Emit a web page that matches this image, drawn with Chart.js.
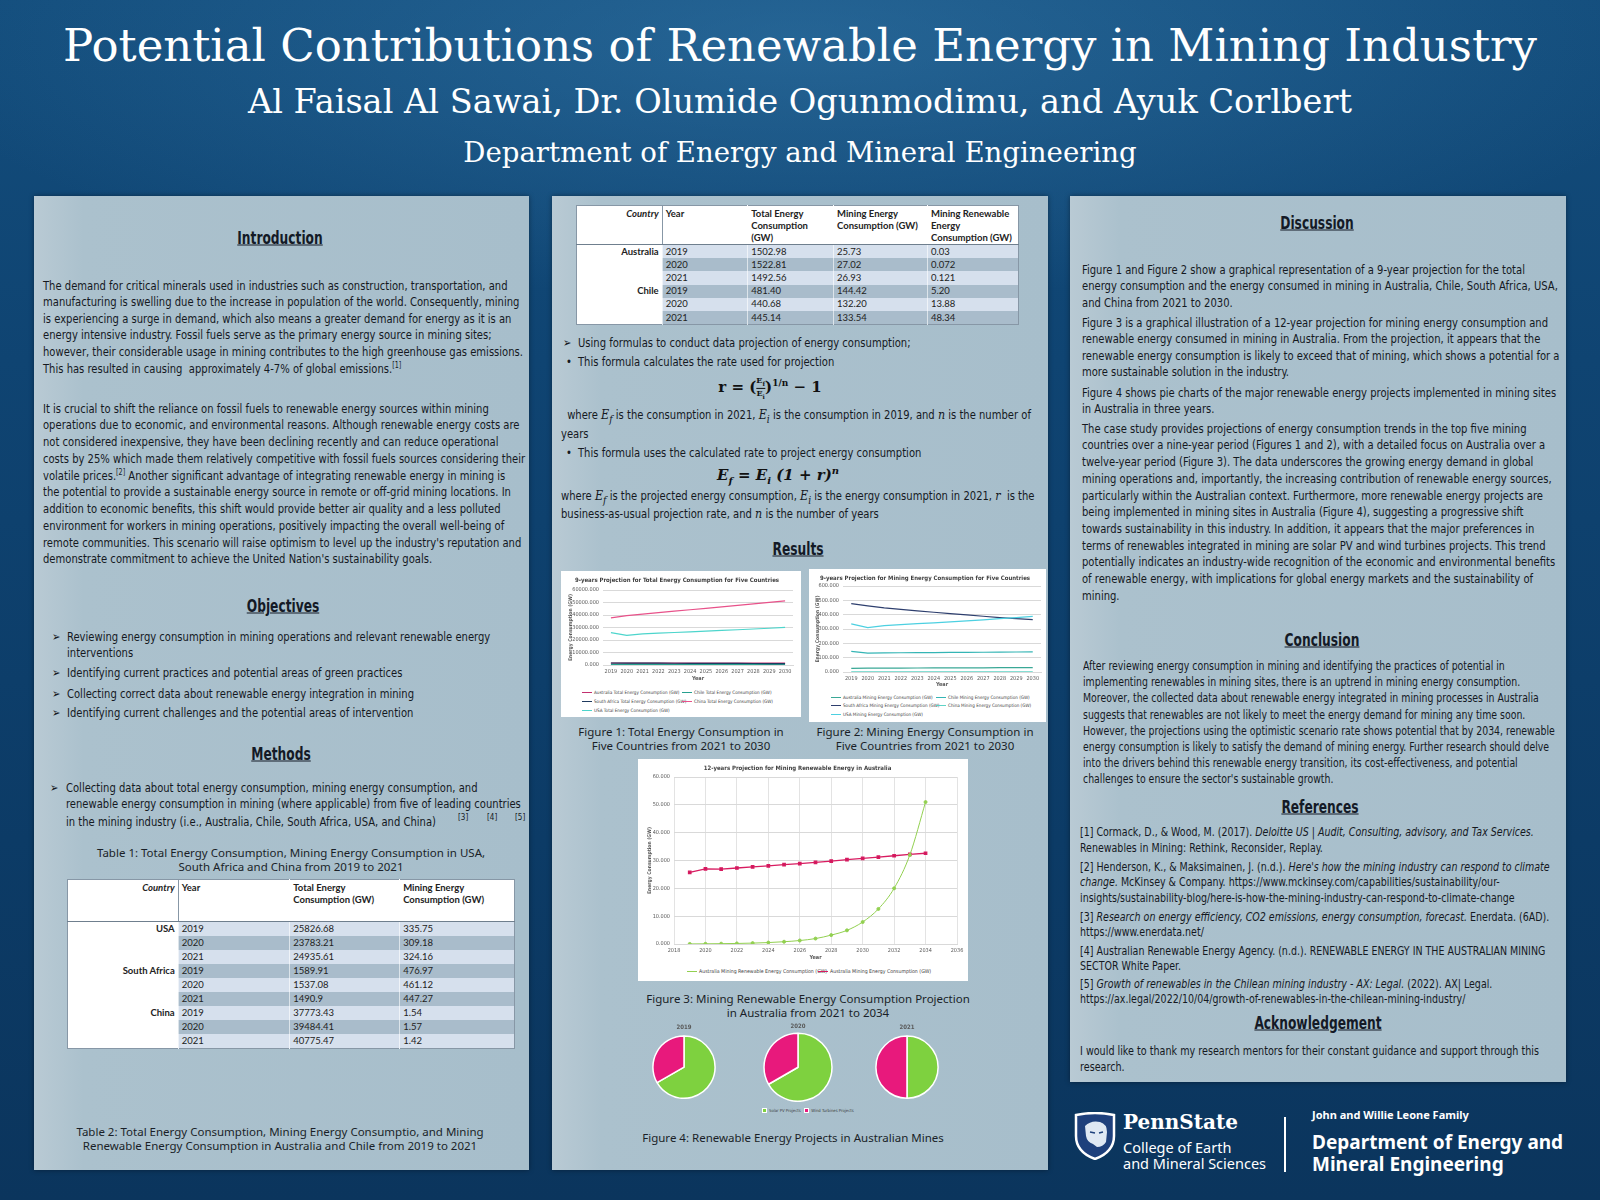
<!DOCTYPE html>
<html>
<head>
<meta charset="utf-8">
<script src="https://cdn.jsdelivr.net/npm/chart.js@4.4.0/dist/chart.umd.min.js"></script>
<style>
html, body { margin: 0; padding: 0; }
body {
  width: 1600px; height: 1200px; position: relative; overflow: hidden;
  background:
    radial-gradient(ellipse 900px 260px at 50% 40px, rgba(60,130,180,.45), rgba(60,130,180,0) 100%),
    linear-gradient(180deg, #134d7c 0%, #0f4472 30%, #0c3b66 70%, #0b355d 100%);
  font-family: 'Liberation Sans Narrow', 'DejaVu Sans Condensed', sans-serif;
}
.hdr { position: absolute; left: 0; width: 1600px; text-align: center; color: #fff;
  font-family: 'DejaVu Serif', 'Liberation Serif', serif; white-space: nowrap; }
.panel { position: absolute;
  background: linear-gradient(90deg, #b9cad4 0%, #abc1cd 10%, #a7becb 100%);
  box-shadow: 0 0 5px rgba(0,0,0,.4); }
.h { position: absolute; font-weight: bold; text-decoration: underline; font-size: 17px;
  color: #141a26; white-space: nowrap; transform: translate(-50%, -50%) scaleX(0.8); line-height: 1; }
.t { position: absolute; font-size: 12.5px; color: #15191f; white-space: nowrap;
  transform: scaleX(0.89); transform-origin: 0 0; }
.t sup { font-size: 8px; line-height: 0; }
.cap { position: absolute; font-family: 'Noto Sans', 'Open Sans', sans-serif; font-size: 11.5px;
  color: #1a1f28; text-align: center; white-space: nowrap; transform: translateX(-50%); line-height: 14px; }
.box { position: absolute; background: #fff; }
canvas { position: absolute; }
.lg { position: absolute; font-size: 4.6px; color: #404040; white-space: nowrap; line-height: 6px; }
.lg span.ln { display: inline-block; width: 10px; height: 1.2px; vertical-align: middle; margin-right: 2px; }
table.tb { position: absolute; border-collapse: collapse; font-family: Lato, 'Noto Sans', sans-serif;
  font-size: 9.5px; color: #222; background: #fff; border: 1px solid #8797a6; }
table.tb td { padding: 0 3px; height: 14px; line-height: 12px; vertical-align: middle; white-space: nowrap; }
table.t2 td { height: 13.2px; }
table.tb tr.hd td { vertical-align: top; font-weight: bold; padding-top: 2px; background: #fff;
  border-bottom: 1px solid #6f7f8e; }
table.tb td.c { text-align: right; font-weight: bold; background: #fff; }
table.tb tr.l td { background: #d6e0ed; }
table.tb tr.d td { background: #a9bccb; }
table.tb tr.l td.c, table.tb tr.d td.c { background: #fff; }
table.tb td + td { border-left: 1px solid rgba(255,255,255,.6); }
table.tb tr.hd td.c { border-right: 1px solid #8797a6; font-style: italic; }
.m { font-family: 'DejaVu Serif', 'Liberation Serif', serif; font-style: italic; }
.fx { position: absolute; font-family: 'DejaVu Serif', 'Liberation Serif', serif; font-weight: bold;
  font-size: 15px; color: #111; white-space: nowrap; transform: translate(-50%, -50%); }
.frac { display: inline-block; vertical-align: middle; text-align: center; font-size: 8px; line-height: 9px; }
.frac span { display: block; }
.frac span.top { border-bottom: 1px solid #111; }
.ft { position: absolute; color: #fff; white-space: nowrap; font-family: 'Noto Sans', 'Open Sans', sans-serif; }
</style>
</head>
<body>

<div class="hdr" style="top:16px; line-height:60px; font-size:45px;">Potential Contributions of Renewable Energy in Mining Industry</div>
<div class="hdr" style="top:80px; line-height:44px; font-size:33.6px;">Al Faisal Al Sawai, Dr. Olumide Ogunmodimu, and Ayuk Corlbert</div>
<div class="hdr" style="top:134px; line-height:38px; font-size:27.6px;">Department of Energy and Mineral Engineering</div>

<div class="panel" style="left:34px; top:196px; width:495px; height:974px;"></div>
<div class="panel" style="left:552px; top:196px; width:496px; height:974px;"></div>
<div class="panel" style="left:1070px; top:196px; width:496px; height:886px;"></div>

<!-- left column -->
<div class="h" style="left:280px; top:238px;">Introduction</div>
<div class="t" style="left:43px; top:277.7px; line-height:16.6px;">
The demand for critical minerals used in industries such as construction, transportation, and<br>
manufacturing is swelling due to the increase in population of the world. Consequently, mining<br>
is experiencing a surge in demand, which also means a greater demand for energy as it is an<br>
energy intensive industry. Fossil fuels serve as the primary energy source in mining sites;<br>
however, their considerable usage in mining contributes to the high greenhouse gas emissions.<br>
This has resulted in causing &nbsp;approximately 4-7% of global emissions.<sup>[1]</sup>
</div>
<div class="t" style="left:43px; top:400.6px; line-height:16.75px;">
It is crucial to shift the reliance on fossil fuels to renewable energy sources within mining<br>
operations due to economic, and environmental reasons. Although renewable energy costs are<br>
not considered inexpensive, they have been declining recently and can reduce operational<br>
costs by 25% which made them relatively competitive with fossil fuels sources considering their<br>
volatile prices.<sup>[2]</sup> Another significant advantage of integrating renewable energy in mining is<br>
the potential to provide a sustainable energy source in remote or off-grid mining locations. In<br>
addition to economic benefits, this shift would provide better air quality and a less polluted<br>
environment for workers in mining operations, positively impacting the overall well-being of<br>
remote communities. This scenario will raise optimism to level up the industry's reputation and<br>
demonstrate commitment to achieve the United Nation's sustainability goals.
</div>

<div class="h" style="left:283px; top:606px;">Objectives</div>
<div class="t" style="left:52px; top:629px; line-height:16px;">&#10146;</div>
<div class="t" style="left:67px; top:629px; line-height:16px;">Reviewing energy consumption in mining operations and relevant renewable energy<br>interventions</div>
<div class="t" style="left:52px; top:665px; line-height:16px;">&#10146;</div>
<div class="t" style="left:67px; top:665px; line-height:16px;">Identifying current practices and potential areas of green practices</div>
<div class="t" style="left:52px; top:686px; line-height:16px;">&#10146;</div>
<div class="t" style="left:67px; top:686px; line-height:16px;">Collecting correct data about renewable energy integration in mining</div>
<div class="t" style="left:52px; top:705px; line-height:16px;">&#10146;</div>
<div class="t" style="left:67px; top:705px; line-height:16px;">Identifying current challenges and the potential areas of intervention</div>

<div class="h" style="left:281px; top:754px;">Methods</div>
<div class="t" style="left:50px; top:780px; line-height:16px;">&#10146;</div>
<div class="t" style="left:66px; top:780px; line-height:16px;">Collecting data about total energy consumption, mining energy consumption, and</div>
<div class="t" style="left:66px; top:796px; line-height:16px;">renewable energy consumption in mining (where applicable) from five of leading countries</div>
<div class="t" style="left:66px; top:814px; line-height:16px;">in the mining industry (i.e., Australia, Chile, South Africa, USA, and China)</div>
<div class="t" style="left:458px; top:812px; line-height:10px; font-size:9px;">[3]</div>
<div class="t" style="left:487px; top:812px; line-height:10px; font-size:9px;">[4]</div>
<div class="t" style="left:515px; top:812px; line-height:10px; font-size:9px;">[5]</div>

<div class="cap" style="left:291px; top:846px;">Table 1: Total Energy Consumption, Mining Energy Consumption in USA,<br>South Africa and China from 2019 to 2021</div>

<table class="tb" style="left:67px; top:879px; width:448px;">
  <colgroup><col style="width:111px"><col style="width:112px"><col style="width:110px"><col style="width:115px"></colgroup>
  <tr class="hd" style="height:42px;"><td class="c">Country</td><td>Year</td><td>Total Energy<br>Consumption (GW)</td><td>Mining Energy<br>Consumption (GW)</td></tr>
  <tr class="l"><td class="c">USA</td><td>2019</td><td>25826.68</td><td>335.75</td></tr>
  <tr class="d"><td class="c"></td><td>2020</td><td>23783.21</td><td>309.18</td></tr>
  <tr class="l"><td class="c"></td><td>2021</td><td>24935.61</td><td>324.16</td></tr>
  <tr class="d"><td class="c">South Africa</td><td>2019</td><td>1589.91</td><td>476.97</td></tr>
  <tr class="l"><td class="c"></td><td>2020</td><td>1537.08</td><td>461.12</td></tr>
  <tr class="d"><td class="c"></td><td>2021</td><td>1490.9</td><td>447.27</td></tr>
  <tr class="l"><td class="c">China</td><td>2019</td><td>37773.43</td><td>1.54</td></tr>
  <tr class="d"><td class="c"></td><td>2020</td><td>39484.41</td><td>1.57</td></tr>
  <tr class="l"><td class="c"></td><td>2021</td><td>40775.47</td><td>1.42</td></tr>
</table>

<div class="cap" style="left:280px; top:1125px;">Table 2: Total Energy Consumption, Mining Energy Consumptio, and Mining<br>Renewable Energy Consumption in Australia and Chile from 2019 to 2021</div>

<!-- middle column -->
<table class="tb t2" style="left:576px; top:205px; width:443px;">
  <colgroup><col style="width:86px"><col style="width:86px"><col style="width:86px"><col style="width:94px"><col style="width:91px"></colgroup>
  <tr class="hd" style="height:38px;"><td class="c">Country</td><td>Year</td><td>Total Energy<br>Consumption<br>(GW)</td><td>Mining Energy<br>Consumption (GW)</td><td>Mining Renewable<br>Energy<br>Consumption (GW)</td></tr>
  <tr class="l"><td class="c">Australia</td><td>2019</td><td>1502.98</td><td>25.73</td><td>0.03</td></tr>
  <tr class="d"><td class="c"></td><td>2020</td><td>1522.81</td><td>27.02</td><td>0.072</td></tr>
  <tr class="l"><td class="c"></td><td>2021</td><td>1492.56</td><td>26.93</td><td>0.121</td></tr>
  <tr class="d"><td class="c">Chile</td><td>2019</td><td>481.40</td><td>144.42</td><td>5.20</td></tr>
  <tr class="l"><td class="c"></td><td>2020</td><td>440.68</td><td>132.20</td><td>13.88</td></tr>
  <tr class="d"><td class="c"></td><td>2021</td><td>445.14</td><td>133.54</td><td>48.34</td></tr>
</table>

<div class="t" style="left:563px; top:335px; line-height:16px;">&#10146;</div>
<div class="t" style="left:578px; top:335px; line-height:16px;">Using formulas to conduct data projection of energy consumption;</div>
<div class="t" style="left:566px; top:354px; line-height:16px;">&bull;</div>
<div class="t" style="left:578px; top:354px; line-height:16px;">This formula calculates the rate used for projection</div>
<div class="fx" style="left:770px; top:388px;">r = (<span class="frac"><span class="top">E<sub style="font-size:6px">f</sub></span><span>E<sub style="font-size:6px">i</sub></span></span>)<sup style="font-size:9px">1/n</sup> &minus; 1</div>
<div class="t" style="left:564px; top:407px; line-height:16px;">&nbsp;where <span class="m">E<sub>f</sub></span> is the consumption in 2021, <span class="m">E<sub>i</sub></span> is the consumption in 2019, and <span class="m">n</span> is the number of</div>
<div class="t" style="left:561px; top:426px; line-height:16px;">years</div>
<div class="t" style="left:566px; top:445px; line-height:16px;">&bull;</div>
<div class="t" style="left:578px; top:445px; line-height:16px;">This formula uses the calculated rate to project energy consumption</div>
<div class="fx" style="left:778px; top:475px; font-style:italic;">E<sub style="font-size:10px">f</sub> = E<sub style="font-size:10px">i</sub> (1 + r)<sup style="font-size:10px">n</sup></div>
<div class="t" style="left:561px; top:488px; line-height:16px;">where <span class="m">E<sub>f</sub></span> is the projected energy consumption, <span class="m">E<sub>i</sub></span> is the energy consumption in 2021, <span class="m">r</span> &nbsp;is the</div>
<div class="t" style="left:561px; top:506px; line-height:16px;">business-as-usual projection rate, and <span class="m">n</span> is the number of years</div>

<div class="h" style="left:798px; top:549px;">Results</div>

<div class="box" style="left:561px; top:571px; width:240px; height:146px;"></div>
<canvas id="fig1" width="240" height="115" style="left:561px; top:571px;"></canvas>
<div class="lg" style="left:582px; top:690px;"><span class="ln" style="background:#c2306f"></span>Australia Total Energy Consumption (GW)</div>
<div class="lg" style="left:682px; top:690px;"><span class="ln" style="background:#27a08f"></span>Chile Total Energy Consumption (GW)</div>
<div class="lg" style="left:582px; top:699px;"><span class="ln" style="background:#1f3a5f"></span>South Africa Total Energy Consumption (GW)</div>
<div class="lg" style="left:682px; top:699px;"><span class="ln" style="background:#e8528a"></span>China Total Energy Consumption (GW)</div>
<div class="lg" style="left:582px; top:708px;"><span class="ln" style="background:#4dd5cc"></span>USA Total Energy Consumption (GW)</div>

<div class="box" style="left:809px; top:569px; width:237px; height:153px;"></div>
<canvas id="fig2" width="237" height="121" style="left:809px; top:569px;"></canvas>
<div class="lg" style="left:831px; top:695px;"><span class="ln" style="background:#3aa896"></span>Australia Mining Energy Consumption (GW)</div>
<div class="lg" style="left:936px; top:695px;"><span class="ln" style="background:#35b5b5"></span>Chile Mining Energy Consumption (GW)</div>
<div class="lg" style="left:831px; top:703px;"><span class="ln" style="background:#2e3f6e"></span>South Africa Mining Energy Consumption (GW)</div>
<div class="lg" style="left:936px; top:703px;"><span class="ln" style="background:#5fd3c6"></span>China Mining Energy Consumption (GW)</div>
<div class="lg" style="left:831px; top:712px;"><span class="ln" style="background:#4dd0e1"></span>USA Mining Energy Consumption (GW)</div>

<div class="cap" style="left:681px; top:725px;">Figure 1: Total Energy Consumption in<br>Five Countries from 2021 to 2030</div>
<div class="cap" style="left:925px; top:725px;">Figure 2: Mining Energy Consumption in<br>Five Countries from 2021 to 2030</div>

<div class="box" style="left:638px; top:759px; width:330px; height:222px;"></div>
<canvas id="fig3" width="330" height="203" style="left:638px; top:759px;"></canvas>
<div class="lg" style="left:687px; top:968px; font-size:5.2px;"><span class="ln" style="background:#92d050"></span>Australia Mining Renewable Energy Consumption (GW)</div>
<div class="lg" style="left:818px; top:968px; font-size:5.2px;"><span class="ln" style="background:#d81b60"></span>Australia Mining Energy Consumption (GW)</div>

<div class="cap" style="left:808px; top:992px;">Figure 3: Mining Renewable Energy Consumption Projection<br>in Australia from 2021 to 2034</div>

<canvas id="pie0" width="80" height="81" style="left:644px; top:1018px;"></canvas>
<canvas id="pie1" width="90" height="85" style="left:753px; top:1017px;"></canvas>
<canvas id="pie2" width="80" height="81" style="left:867px; top:1018px;"></canvas>
<div class="lg" style="left:762px; top:1108px; font-size:4.2px;"><span style="display:inline-block;width:3px;height:3px;background:#7ed13f;border:0.5px solid #fff;margin-right:2px;vertical-align:middle"></span>Solar PV Projects &nbsp; <span style="display:inline-block;width:3px;height:3px;background:#e8197c;border:0.5px solid #fff;margin-right:2px;vertical-align:middle"></span>Wind Turbines Projects</div>

<div class="cap" style="left:793px; top:1131px;">Figure 4: Renewable Energy Projects in Australian Mines</div>

<!-- right column -->
<div class="h" style="left:1317px; top:223px;">Discussion</div>
<div class="t" style="left:1082px; top:261.7px; line-height:16.6px;">
Figure 1 and Figure 2 show a graphical representation of a 9-year projection for the total<br>
energy consumption and the energy consumed in mining in Australia, Chile, South Africa, USA,<br>
and China from 2021 to 2030.
</div>
<div class="t" style="left:1082px; top:314.7px; line-height:16.6px;">
Figure 3 is a graphical illustration of a 12-year projection for mining energy consumption and<br>
renewable energy consumed in mining in Australia. From the projection, it appears that the<br>
renewable energy consumption is likely to exceed that of mining, which shows a potential for a<br>
more sustainable solution in the industry.
</div>
<div class="t" style="left:1082px; top:384.7px; line-height:16.6px;">
Figure 4 shows pie charts of the major renewable energy projects implemented in mining sites<br>
in Australia in three years.
</div>
<div class="t" style="left:1082px; top:420.7px; line-height:16.7px;">
The case study provides projections of energy consumption trends in the top five mining<br>
countries over a nine-year period (Figures 1 and 2), with a detailed focus on Australia over a<br>
twelve-year period (Figure 3). The data underscores the growing energy demand in global<br>
mining operations and, importantly, the increasing contribution of renewable energy sources,<br>
particularly within the Australian context. Furthermore, more renewable energy projects are<br>
being implemented in mining sites in Australia (Figure 4), suggesting a progressive shift<br>
towards sustainability in this industry. In addition, it appears that the major preferences in<br>
terms of renewables integrated in mining are solar PV and wind turbines projects. This trend<br>
potentially indicates an industry-wide recognition of the economic and environmental benefits<br>
of renewable energy, with implications for global energy markets and the sustainability of<br>
mining.
</div>

<div class="h" style="left:1322px; top:640px;">Conclusion</div>
<div class="t" style="left:1083px; top:658px; line-height:16.2px; font-size:11.7px;">
After reviewing energy consumption in mining and identifying the practices of potential in<br>
implementing renewables in mining sites, there is an uptrend in mining energy consumption.<br>
Moreover, the collected data about renewable energy integrated in mining processes in Australia<br>
suggests that renewables are not likely to meet the energy demand for mining any time soon.<br>
However, the projections using the optimistic scenario rate shows potential that by 2034, renewable<br>
energy consumption is likely to satisfy the demand of mining energy. Further research should delve<br>
into the drivers behind this renewable energy transition, its cost-effectiveness, and potential<br>
challenges to ensure the sector's sustainable growth.
</div>

<div class="h" style="left:1320px; top:807px;">References</div>
<div class="t" style="left:1080px; top:825px; line-height:15.5px; font-size:11.85px;">[1] Cormack, D., &amp; Wood, M. (2017). <i>Deloitte US | Audit, Consulting, advisory, and Tax Services.</i><br>Renewables in Mining: Rethink, Reconsider, Replay.</div>
<div class="t" style="left:1080px; top:859.5px; line-height:15.5px; font-size:11.85px;">[2] Henderson, K., &amp; Maksimainen, J. (n.d.). <i>Here's how the mining industry can respond to climate<br>change.</i> McKinsey &amp; Company. https://www.mckinsey.com/capabilities/sustainability/our-<br>insights/sustainability-blog/here-is-how-the-mining-industry-can-respond-to-climate-change</div>
<div class="t" style="left:1080px; top:909.5px; line-height:15.5px; font-size:11.85px;">[3] <i>Research on energy efficiency, CO2 emissions, energy consumption, forecast.</i> Enerdata. (6AD).<br>https://www.enerdata.net/</div>
<div class="t" style="left:1080px; top:943.5px; line-height:15.5px; font-size:11.85px;">[4] Australian Renewable Energy Agency. (n.d.). RENEWABLE ENERGY IN THE AUSTRALIAN MINING<br>SECTOR White Paper.</div>
<div class="t" style="left:1080px; top:976.5px; line-height:15.5px; font-size:11.85px;">[5] <i>Growth of renewables in the Chilean mining industry - AX: Legal.</i> (2022). AX| Legal.<br>https://ax.legal/2022/10/04/growth-of-renewables-in-the-chilean-mining-industry/</div>

<div class="h" style="left:1318px; top:1023px;">Acknowledgement</div>
<div class="t" style="left:1080px; top:1043px; line-height:16px; font-size:12px;">I would like to thank my research mentors for their constant guidance and support through this<br>research.</div>

<!-- footer logos -->
<svg style="position:absolute; left:1073px; top:1112px;" width="44" height="48" viewBox="0 0 44 48">
  <path d="M3 3 Q22 -1 41 3 L41 24 Q41 40 22 47 Q3 40 3 24 Z" fill="#1e407c" stroke="#ffffff" stroke-width="2.5"/>
  <path d="M12 14 Q18 8 27 10 Q34 12 34 20 L33 30 Q30 35 24 35 L20 32 Q14 30 13 24 Z" fill="#dfe8f3"/>
  <path d="M17 20 L22 21 M26 21 L30 20" stroke="#1e407c" stroke-width="1.5"/>
</svg>
<div class="ft" style="left:1123px; top:1112px; font-family:'DejaVu Serif','Liberation Serif',serif; font-weight:bold; font-size:20px; line-height:20px;">PennState</div>
<div class="ft" style="left:1123px; top:1139px; font-size:14.5px; line-height:16px;">College of Earth<br>and Mineral Sciences</div>
<div style="position:absolute; left:1284px; top:1117px; width:2px; height:55px; background:#fff;"></div>
<div class="ft" style="left:1312px; top:1109px; font-weight:bold; font-size:11px; line-height:12px;">John and Willie Leone Family</div>
<div class="ft" style="left:1312px; top:1131px; font-weight:bold; font-size:19px; line-height:22px;">Department of Energy and<br>Mineral Engineering</div>

<script>
// figure 1 - total energy consumption, 2019-2030
const years9 = ['2019', '2020', '2021', '2022', '2023', '2024', '2025', '2026', '2027', '2028', '2029', '2030'];
const totalAustralia = [1502.98, 1522.81, 1492.56, 1488, 1483, 1478, 1473, 1468, 1463, 1458, 1453, 1448];
const totalChile = [481.40, 440.68, 445.14, 428, 411, 395, 380, 365, 351, 337, 324, 312];
const totalSouthAfrica = [1589.91, 1537.08, 1490.9, 1444, 1398, 1354, 1311, 1270, 1230, 1191, 1153, 1117];
const totalChina = [37773.43, 39484.41, 40775.47, 41900, 43050, 44200, 45350, 46550, 47750, 48950, 50150, 51350];
const totalUSA = [25826.68, 23783.21, 24935.61, 25450, 25980, 26520, 27070, 27630, 28200, 28790, 29390, 30100];

// figure 2 - mining energy consumption, 2019-2030
const miningAustralia = [25.73, 27.02, 26.93, 27.4, 27.8, 28.2, 28.6, 29.0, 29.4, 29.9, 30.3, 30.8];
const miningChile = [144.42, 132.20, 133.54, 134.2, 134.9, 135.6, 136.3, 137.0, 137.7, 138.4, 139.4, 140.5];
const miningSouthAfrica = [476.97, 461.12, 447.27, 437, 427, 417, 407, 398, 389, 380, 372, 365];
const miningChina = [1.54, 1.57, 1.42, 1.41, 1.40, 1.39, 1.38, 1.37, 1.36, 1.35, 1.34, 1.33];
const miningUSA = [335.75, 309.18, 324.16, 330, 337, 343, 350, 357, 364, 372, 380, 388];

// figure 3 - Australia, 2019-2034
const years12 = [2019, 2020, 2021, 2022, 2023, 2024, 2025, 2026, 2027, 2028, 2029, 2030, 2031, 2032, 2033, 2034];
const ausRenewable = [0.03, 0.072, 0.121, 0.2, 0.32, 0.52, 0.82, 1.25, 1.95, 3.2, 4.9, 7.9, 12.6, 20.0, 32.0, 51.0];
const ausMining = [25.73, 27.02, 26.93, 27.3, 27.7, 28.1, 28.5, 28.9, 29.3, 29.8, 30.3, 30.8, 31.2, 31.7, 32.2, 32.6];

// figure 4 - renewable projects
const pieYears = ['2019', '2020', '2021'];
const pieLabels = ['Solar PV Projects', 'Wind Turbines Projects'];
const solarProjects = [2, 2, 1];
const windProjects = [1, 1, 1];

Chart.defaults.font.family = "'Liberation Sans Narrow', 'DejaVu Sans Condensed', sans-serif";
Chart.defaults.color = '#595959';
Chart.defaults.animation = false;

function fixWidth(w) { return scale => { scale.width = w; }; }
function fixHeight(h) { return scale => { scale.height = h; }; }
const fmt3 = v => Number(v).toFixed(3);

// excel draws later series on top, chart.js the other way round
function stackLikeExcel(sets) {
  return sets.map((s, i) => Object.assign({ order: sets.length - i }, s));
}

function lineChart(id, o) {
  return new Chart(document.getElementById(id), {
    type: 'line',
    data: o.data,
    options: {
      responsive: false,
      animation: false,
      elements: { point: { radius: 0 }, line: { borderWidth: 1.2, tension: 0 } },
      layout: { padding: { left: 0, right: o.padRight, top: 0, bottom: 0 } },
      plugins: {
        legend: { display: false },
        tooltip: { enabled: false },
        title: {
          display: true, text: o.title, color: '#404040',
          font: { size: 6, weight: 'bold' },
          padding: { top: o.titleTop, bottom: o.titleBottom }
        }
      },
      scales: {
        x: Object.assign({
          grid: { display: false, drawTicks: false },
          border: { color: '#d9d9d9' },
          ticks: { font: { size: 5.5 }, padding: 3, autoSkip: false, maxRotation: 0 },
          title: { display: true, text: 'Year', font: { size: 5.5, weight: 'bold' }, padding: { top: 0, bottom: o.yearPad } },
          afterFit: fixHeight(o.xHeight)
        }, o.x),
        y: {
          min: 0, max: o.yMax,
          ticks: { stepSize: o.yStep, font: { size: 5.5 }, padding: 4, callback: fmt3 },
          grid: { color: '#d9d9d9', drawTicks: false },
          border: { display: false },
          title: { display: true, text: 'Energy Consumption (GW)', font: { size: 5, weight: 'bold' }, padding: { top: o.yTitlePad, bottom: 0 } },
          afterFit: fixWidth(o.yWidth)
        }
      }
    }
  });
}

lineChart('fig1', {
  title: '9-years Projection for Total Energy Consumption for Five Countries',
  data: {
    labels: years9,
    datasets: stackLikeExcel([
      { label: 'Australia Total Energy Consumption (GW)', data: totalAustralia, borderColor: '#c2306f' },
      { label: 'Chile Total Energy Consumption (GW)', data: totalChile, borderColor: '#27a08f' },
      { label: 'South Africa Total Energy Consumption (GW)', data: totalSouthAfrica, borderColor: '#1f3a5f' },
      { label: 'China Total Energy Consumption (GW)', data: totalChina, borderColor: '#e8528a' },
      { label: 'USA Total Energy Consumption (GW)', data: totalUSA, borderColor: '#4dd5cc' }
    ])
  },
  padRight: 8, titleTop: 6, titleBottom: 5.8, xHeight: 21, yearPad: 4, yWidth: 42, yTitlePad: 7,
  yMax: 60000, yStep: 10000, x: { offset: true }
});

lineChart('fig2', {
  title: '9-years Projection for Mining Energy Consumption for Five Countries',
  data: {
    labels: years9,
    datasets: stackLikeExcel([
      { label: 'Australia Mining Energy Consumption (GW)', data: miningAustralia, borderColor: '#3aa896' },
      { label: 'Chile Mining Energy Consumption (GW)', data: miningChile, borderColor: '#35b5b5' },
      { label: 'South Africa Mining Energy Consumption (GW)', data: miningSouthAfrica, borderColor: '#2e3f6e' },
      { label: 'China Mining Energy Consumption (GW)', data: miningChina, borderColor: '#5fd3c6' },
      { label: 'USA Mining Energy Consumption (GW)', data: miningUSA, borderColor: '#4dd0e1' }
    ])
  },
  padRight: 5, titleTop: 5.4, titleBottom: 4.4, xHeight: 18, yearPad: 2, yWidth: 34, yTitlePad: 6,
  yMax: 600, yStep: 100, x: { offset: true }
});

lineChart('fig3', {
  title: '12-years Projection for Mining Renewable Energy in Australia',
  data: {
    datasets: [
      {
        label: 'Australia Mining Renewable Energy Consumption (GW)',
        data: years12.map((yr, i) => ({ x: yr, y: ausRenewable[i] })),
        borderColor: '#92d050', backgroundColor: '#92d050', borderWidth: 1,
        cubicInterpolationMode: 'monotone', pointRadius: 1.5, pointStyle: 'circle'
      },
      {
        label: 'Australia Mining Energy Consumption (GW)',
        data: years12.map((yr, i) => ({ x: yr, y: ausMining[i] })),
        borderColor: '#d81b60', backgroundColor: '#c2185b', borderWidth: 1.3,
        pointRadius: 1.7, pointStyle: 'rect'
      }
    ]
  },
  padRight: 11, titleTop: 5.4, titleBottom: 5.4, xHeight: 18, yearPad: 1, yWidth: 36, yTitlePad: 9,
  yMax: 60, yStep: 10,
  x: {
    type: 'linear', min: 2018, max: 2036,
    grid: { display: true, color: '#e3e3e3', drawTicks: false },
    ticks: { stepSize: 2, font: { size: 5.5 }, padding: 3, maxRotation: 0, callback: v => String(v) }
  }
});

pieYears.forEach((yr, i) => {
  new Chart(document.getElementById('pie' + i), {
    type: 'pie',
    data: {
      labels: pieLabels,
      datasets: [{
        data: [solarProjects[i], windProjects[i]],
        backgroundColor: ['#7ed13f', '#e8197c'],
        borderColor: '#ffffff',
        borderWidth: 1.5
      }]
    },
    options: {
      responsive: false,
      animation: false,
      plugins: {
        legend: { display: false },
        tooltip: { enabled: false },
        title: { display: true, text: yr, font: { size: 6 }, color: '#595959', padding: { top: 5.4, bottom: i === 1 ? 2.9 : 4.7 } }
      }
    }
  });
});
</script>
</body>
</html>
